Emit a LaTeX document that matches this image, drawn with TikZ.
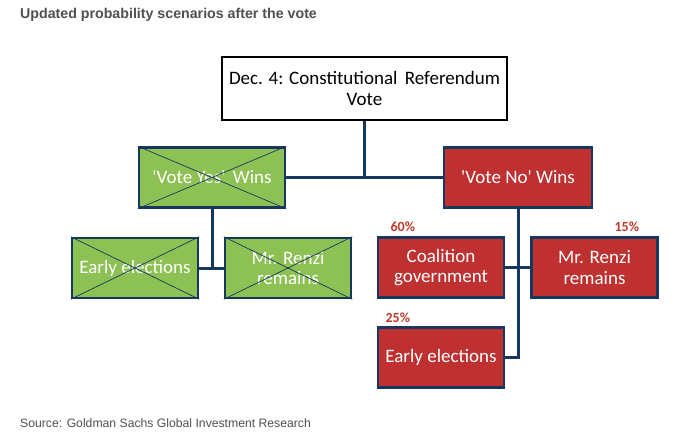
\documentclass[tikz,border=0pt]{standalone}
\usepackage{fontspec}
\setmainfont{Liberation Sans}
\newfontfamily\boxfont{Carlito}
\usetikzlibrary{positioning}

\definecolor{navyline}{HTML}{17375E}
\definecolor{yesgreen}{HTML}{8DC153}
\definecolor{nored}{HTML}{BF3131}
\definecolor{pcred}{HTML}{C0392B}
\definecolor{capgray}{HTML}{505050}

\begin{document}
\begin{tikzpicture}[x=1pt,y=-1pt]

\tikzstyle{scenbox}=[draw=navyline, line width=2.5pt, text=white, align=center, inner sep=0pt,
  font=\boxfont\fontsize{19}{20.5}\selectfont]
\tikzstyle{topbox}=[scenbox, draw=black, fill=white, text=black, minimum width=285pt, minimum height=63pt]
\tikzstyle{yesbox}=[scenbox, fill=yesgreen, minimum width=126pt, minimum height=60pt]
\tikzstyle{nobox}=[scenbox, fill=nored, minimum width=126pt, minimum height=60pt]
\tikzstyle{link}=[draw=navyline, line width=3pt]
\tikzstyle{pct}=[text=pcred, font=\boxfont\bfseries\fontsize{14}{16}\selectfont]

\newcommand{\scenario}[3]{node (p#1) [#2] {#3}}
\newcommand{\crossbox}[1]{%
  \draw[navyline, line width=0.7pt] (#1.north west) -- (#1.south east)
    (#1.south west) -- (#1.north east);}

\useasboundingbox[fill=white] (0,0) rectangle (687,439);

\path (20,15) node[anchor=west, inner sep=0pt, text=capgray, font=\bfseries\fontsize{14.2}{16}\selectfont]
  (title) {Updated probability scenarios after the vote};

\path (364.5,88.5) \scenario{Top}{topbox}{Dec. 4: Constitutional\, Referendum\\Vote};

\path (212,177.5) \scenario{Yes}{yesbox, minimum width=146pt}{\textquotesingle Vote Yes\textquotesingle\ \,Wins};
\path (518,177.5) \scenario{No}{nobox, minimum width=148pt}{\textquotesingle Vote No\textquotesingle\ Wins};

\path (135,268) \scenario{YesEarly}{yesbox}{Early elections};
\path (288,268) \scenario{YesRenzi}{yesbox}{Mr. Renzi\\remains};

\path (441,267.5) \scenario{Coal}{nobox}{Coalition\\government};
\path (594.5,267.5) \scenario{NoRenzi}{nobox}{Mr. Renzi\\remains};
\path (441,357.5) \scenario{NoEarly}{nobox}{Early elections};

% crossed out branch
\crossbox{pYes}
\crossbox{pYesEarly}
\crossbox{pYesRenzi}

% tree links
\draw[link] (pTop.south) -- (pTop.south |- pYes.east);
\draw[link] (pYes.east) -- (pNo.west);
\draw[link] (pYes.south) -- (pYes.south |- pYesEarly.east);
\draw[link] (pYesEarly.east) -- (pYesRenzi.west);
\draw[link] (pNo.south) |- (pNoEarly.east);
\draw[link] (pCoal.east) -- (pNoRenzi.west);

\path (pCoal.north west) + (26,-10) node[pct] (c60) {60\%};
\path (pNoRenzi.north east) + (-32,-10) node[pct] (c15) {15\%};
\path (pNoEarly.north west) + (21,-9) node[pct] (c25) {25\%};

\path (20,423) node[anchor=west, inner sep=0pt, text=capgray, font=\fontsize{12.2}{14}\selectfont]
  (source) {Source: Goldman Sachs Global Investment Research};

\end{tikzpicture}
\end{document}
